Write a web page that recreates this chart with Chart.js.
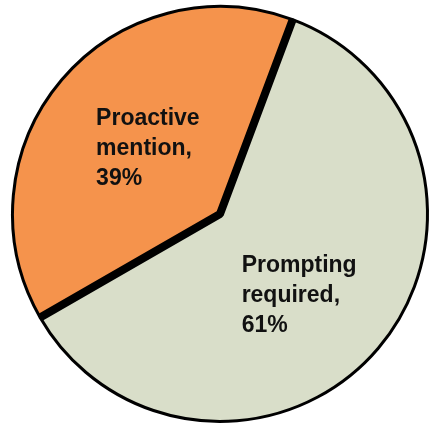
<!DOCTYPE html>
<html>
<head>
<meta charset="utf-8">
<script src="https://cdn.jsdelivr.net/npm/chart.js@4/dist/chart.umd.min.js"></script>
<style>
  html, body { margin: 0; padding: 0; background: #fff; }
  #wrap { width: 432px; height: 426px; }
</style>
</head>
<body>
<div id="wrap"><canvas id="Chart"></canvas></div>
<script>
// share of respondents, drawn clockwise from the upper edge
const categories = ['Prompting required', 'Proactive mention'];
const labelLines = [['Prompting', 'required,', '61%'], ['Proactive', 'mention,', '39%']];
const shares = [61, 39];
const colors = ['#d9dec9', '#f5934c'];

// thick black dividers between the slices
const dividers = {
  id: 'dividers',
  afterDatasetsDraw(chart) {
    const arcs = chart.getDatasetMeta(0).data;
    const ctx = chart.ctx;
    const a = arcs[0], b = arcs[1];
    const r = a.outerRadius - 1;
    ctx.save();
    ctx.strokeStyle = '#000';
    ctx.lineWidth = 8;
    ctx.lineJoin = 'bevel';
    ctx.beginPath();
    ctx.moveTo(a.x + r * Math.cos(a.startAngle), a.y + r * Math.sin(a.startAngle));
    ctx.lineTo(a.x, a.y);
    ctx.lineTo(b.x + r * Math.cos(b.startAngle), b.y + r * Math.sin(b.startAngle));
    ctx.stroke();
    ctx.restore();
  }
};

// multi-line labels, left aligned, block roughly centred on each slice
const nudge = [[0, 13], [7, 0]];
const sliceLabels = {
  id: 'sliceLabels',
  afterDatasetsDraw(chart) {
    const ctx = chart.ctx;
    const lh = 30;
    ctx.save();
    ctx.font = 'bold 23px "Liberation Sans", Arial, sans-serif';
    ctx.fillStyle = '#111';
    ctx.textAlign = 'left';
    ctx.textBaseline = 'alphabetic';
    chart.getDatasetMeta(0).data.forEach((arc, i) => {
      const pos = arc.tooltipPosition();
      const lines = labelLines[i];
      const w = Math.max(...lines.map(t => ctx.measureText(t).width));
      const left = pos.x - w / 2 + nudge[i][0];
      const first = pos.y - (lines.length - 1) * lh / 2 + 8 + nudge[i][1];
      lines.forEach((t, k) => ctx.fillText(t, left, first + k * lh));
    });
    ctx.restore();
  }
};

new Chart(document.getElementById('Chart'), {
  type: 'pie',
  data: {
    labels: categories,
    datasets: [{
      data: shares,
      backgroundColor: colors,
      borderColor: '#000',
      borderWidth: 3,
      hoverOffset: 0,
      offset: 0
    }]
  },
  options: {
    responsive: true,
    maintainAspectRatio: false,
    animation: false,
    rotation: 20.5,
    layout: { padding: { left: 11, right: 3, top: 5, bottom: 3 } },
    plugins: {
      legend: { display: false },
      tooltip: { enabled: false }
    }
  },
  plugins: [dividers, sliceLabels]
});
</script>
</body>
</html>
